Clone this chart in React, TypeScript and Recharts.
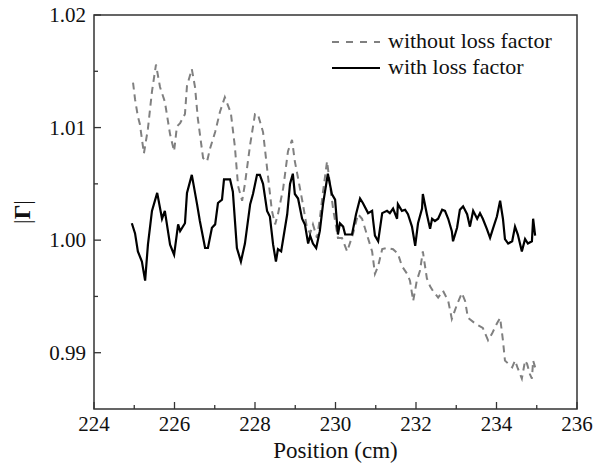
import React from "react";
import {
  LineChart,
  Line,
  XAxis,
  YAxis,
  ReferenceArea,
  Label,
} from "recharts";

// Position (cm) / |Gamma| samples
const withLossX = [
  224.94, 225.02, 225.09, 225.19, 225.27, 225.34, 225.44, 225.57, 225.69, 225.76,
  225.89, 225.99, 226.09, 226.14, 226.26, 226.31, 226.43, 226.56, 226.63, 226.76,
  226.83, 226.93, 227.01, 227.08, 227.18, 227.23, 227.38, 227.45, 227.55, 227.65,
  227.75, 227.88, 227.95, 228.05, 228.12, 228.2, 228.3, 228.37, 228.45, 228.52,
  228.57, 228.65, 228.7, 228.8, 228.87, 228.94, 228.99, 229.07, 229.17, 229.24,
  229.32, 229.37, 229.44, 229.52, 229.61, 229.69, 229.81, 229.91, 229.99, 230.06,
  230.11, 230.19, 230.24, 230.41, 230.51, 230.61, 230.68, 230.81, 230.91, 230.93,
  230.98, 231.06, 231.16, 231.28, 231.35, 231.43, 231.53, 231.55, 231.65, 231.73,
  231.8, 231.9, 231.98, 232.05, 232.15, 232.17, 232.27, 232.35, 232.4, 232.47,
  232.55, 232.65, 232.72, 232.8, 232.89, 232.92, 233.02, 233.09, 233.17, 233.27,
  233.34, 233.42, 233.52, 233.59, 233.66, 233.76, 233.84, 233.91, 234.01, 234.09,
  234.16, 234.21, 234.29, 234.39, 234.46, 234.53, 234.63, 234.71, 234.78, 234.88,
  234.91, 234.96,
];
const withLossY = [
  1.0015, 1.0006, 0.999, 0.9981, 0.9964, 0.9996, 1.0026, 1.0042, 1.0019, 1.0026,
  0.9996, 0.9987, 1.0014, 1.0008, 1.0015, 1.0042, 1.0058, 1.0032, 1.0017, 0.9993,
  0.9993, 1.0011, 1.0014, 1.0033, 1.0036, 1.0054, 1.0054, 1.0043, 0.9993, 0.9981,
  0.9997, 1.0032, 1.0041, 1.0058, 1.0058, 1.005, 1.0026, 1.0021, 0.9996, 0.9981,
  0.9992, 0.999, 1.0001, 1.0023, 1.005, 1.0059, 1.0041, 1.0037, 1.0019, 1.0014,
  0.9997, 1.0004, 0.9997, 0.9993, 1.0008, 1.0032, 1.0059, 1.0041, 1.0036, 1.0005,
  1.0015, 1.0012, 1.0005, 1.0005, 1.0023, 1.0037, 1.0033, 1.0024, 1.0026, 1.0019,
  1.0004, 0.9999, 1.0024, 1.0026, 1.0024, 1.0028, 1.0019, 1.0032, 1.0026, 1.0027,
  1.0023, 1.0012, 0.9995, 1.0015, 1.0028, 1.0041, 1.0023, 1.001, 1.0019, 1.0017,
  1.0019, 1.0027, 1.0026, 1.0019, 1.0008, 0.9999, 1.0011, 1.0027, 1.003, 1.0023,
  1.0012, 1.0026, 1.0019, 1.0024, 1.0019, 1.001, 1.0002, 1.001, 1.0021, 1.0035,
  1.0019, 1.0001, 0.9997, 0.9999, 1.0012, 1.0005, 0.999, 1.0001, 0.9997, 0.9999,
  1.0019, 1.0004,
];

const withoutLossX = [
  224.97, 225.02, 225.09, 225.14, 225.24, 225.34, 225.44, 225.54, 225.64, 225.76,
  225.89, 225.99, 226.06, 226.14, 226.26, 226.31, 226.43, 226.51, 226.58, 226.71,
  226.81, 226.88, 227.01, 227.13, 227.25, 227.4, 227.5, 227.58, 227.68, 227.75,
  227.88, 228.0, 228.07, 228.2, 228.3, 228.42, 228.5, 228.57, 228.7, 228.82,
  228.92, 228.99, 229.07, 229.19, 229.29, 229.37, 229.44, 229.54, 229.61, 229.69,
  229.79, 229.86, 229.94, 230.06, 230.16, 230.29, 230.43, 230.56, 230.66, 230.78,
  230.91, 230.98, 231.06, 231.16, 231.28, 231.43, 231.55, 231.65, 231.78, 231.85,
  231.93, 232.02, 232.1, 232.17, 232.27, 232.35, 232.42, 232.55, 232.67, 232.8,
  232.89, 233.02, 233.14, 233.22, 233.29, 233.47, 233.66, 233.79, 233.89, 234.01,
  234.09, 234.16, 234.21, 234.39, 234.46, 234.53, 234.63, 234.71, 234.76, 234.83,
  234.88, 234.91, 234.96,
];
const withoutLossY = [
  1.014, 1.0125, 1.011, 1.0103, 1.0077, 1.0099, 1.0132, 1.0156, 1.0136, 1.0123,
  1.0094, 1.0079, 1.0101, 1.0104, 1.0112, 1.0137, 1.0152, 1.0136, 1.0108, 1.0073,
  1.007, 1.0081, 1.0096, 1.0114, 1.0127, 1.0113, 1.0083, 1.0048, 1.0035, 1.005,
  1.0085, 1.0112, 1.0112, 1.0096, 1.0064, 1.0026, 1.0014, 1.0023, 1.0046, 1.0079,
  1.0089, 1.007, 1.0055, 1.0032, 1.0011, 1.0006, 1.0014, 1.0002, 1.0019, 1.0043,
  1.007, 1.005, 1.0028, 1.0002, 1.0002, 0.999, 1.0005, 1.0023, 1.0019, 1.0005,
  0.999, 0.997, 0.9977, 0.9992, 0.9993, 0.9992, 0.9988, 0.9977, 0.997, 0.9964,
  0.9946, 0.9964, 0.9973, 0.999, 0.9966, 0.9959, 0.9955, 0.9949, 0.9955, 0.9946,
  0.993, 0.9943, 0.9953, 0.9946, 0.9931, 0.9926, 0.9922, 0.9911, 0.9917, 0.9926,
  0.9931, 0.9911, 0.9893, 0.9887, 0.9893, 0.9886, 0.9877, 0.9893, 0.989, 0.9881,
  0.9877, 0.9893, 0.9887,
];

const xTicks = [224, 225, 226, 227, 228, 229, 230, 231, 232, 233, 234, 235, 236];
const yTicks = [0.99, 0.995, 1.0, 1.005, 1.01, 1.015, 1.02];

const withLoss = withLossX.map((x, i) => ({ x, v: withLossY[i] }));
const withoutLoss = withoutLossX.map((x, i) => ({ x, v: withoutLossY[i] }));

const FONT = '"Liberation Serif", "Times New Roman", serif';
const AXIS = "#333";

const XTick = (props: any) => {
  const { x, y, payload } = props;
  const major = payload.value % 2 === 0;
  return (
    <g>
      <line x1={x} y1={y} x2={x} y2={y - (major ? 7 : 4)} stroke={AXIS} strokeWidth={1.3} />
      {major && (
        <text x={x} y={y + 22} textAnchor="middle" fontFamily={FONT} fontSize={21} fill="#111">
          {payload.value}
        </text>
      )}
    </g>
  );
};

const YTick = (props: any) => {
  const { x, y, payload } = props;
  const v = payload.value;
  const major = Math.abs(v * 100 - Math.round(v * 100)) < 1e-6;
  return (
    <g>
      <line x1={x} y1={y} x2={x + (major ? 7 : 4)} y2={y} stroke={AXIS} strokeWidth={1.3} />
      {major && (
        <text x={x - 8} y={y} dy="0.35em" textAnchor="end" fontFamily={FONT} fontSize={21} fill="#111">
          {v.toFixed(2)}
        </text>
      )}
    </g>
  );
};

export default function App() {
  return (
    <div
      style={{
        position: "absolute",
        left: 0,
        top: 0,
        width: 607,
        height: 469,
        background: "#fff",
      }}
    >
      <LineChart width={607} height={469} margin={{ top: 15, right: 30, left: 0, bottom: 0 }}>
        <XAxis
          dataKey="x"
          type="number"
          domain={[224, 236]}
          ticks={xTicks}
          interval={0}
          height={60}
          axisLine={false}
          tickLine={false}
          tickSize={0}
          tickMargin={0}
          tick={<XTick />}
        >
          <Label
            value="Position (cm)"
            position="insideBottom"
            offset={11}
            style={{ fontFamily: FONT, fontSize: 23, fill: "#111" }}
          />
        </XAxis>
        <YAxis
          type="number"
          domain={[0.985, 1.02]}
          ticks={yTicks}
          interval={0}
          width={94}
          axisLine={false}
          tickLine={false}
          tickSize={0}
          tickMargin={0}
          tick={<YTick />}
          allowDataOverflow
        >
          <Label
            content={() => (
              <text
                x={22}
                y={212}
                transform="rotate(-90 22 212)"
                textAnchor="middle"
                dy="0.35em"
                fontFamily={FONT}
                fontSize={23}
                fill="#111"
              >
                |<tspan fontWeight="bold">Γ</tspan>|
              </text>
            )}
          />
        </YAxis>
        <ReferenceArea
          x1={224}
          x2={236}
          y1={0.985}
          y2={1.02}
          fill="none"
          stroke={AXIS}
          strokeWidth={1.5}
          ifOverflow="visible"
        />
        <Line
          data={withoutLoss}
          dataKey="v"
          type="linear"
          stroke="#808080"
          strokeWidth={2}
          strokeDasharray="7 5"
          dot={false}
          isAnimationActive={false}
        />
        <Line
          data={withLoss}
          dataKey="v"
          type="linear"
          stroke="#000"
          strokeWidth={2.2}
          dot={false}
          isAnimationActive={false}
        />
      </LineChart>
      <div
        style={{
          position: "absolute",
          left: 332,
          top: 28,
          fontFamily: FONT,
          fontSize: 22,
          color: "#111",
          lineHeight: "26px",
        }}
      >
        <div style={{ display: "flex", alignItems: "center" }}>
          <svg width={50} height={26}>
            <line x1={0} y1={14} x2={48} y2={14} stroke="#808080" strokeWidth={2} strokeDasharray="7 7" />
          </svg>
          <span style={{ marginLeft: 6 }}>without loss factor</span>
        </div>
        <div style={{ display: "flex", alignItems: "center" }}>
          <svg width={50} height={26}>
            <line x1={0} y1={14} x2={48} y2={14} stroke="#000" strokeWidth={2} />
          </svg>
          <span style={{ marginLeft: 6 }}>with loss factor</span>
        </div>
      </div>
    </div>
  );
}
